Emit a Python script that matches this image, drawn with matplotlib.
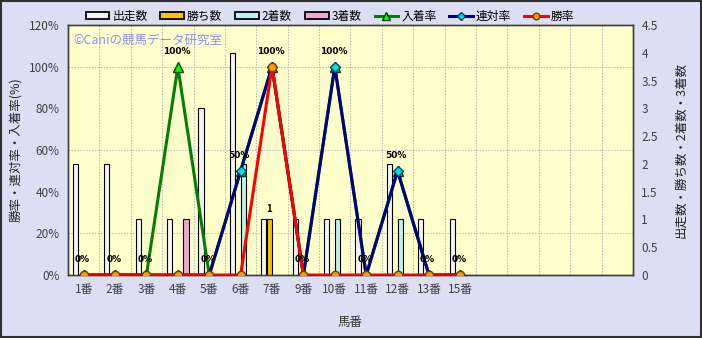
import numpy as np
import matplotlib
matplotlib.use("Agg")
import matplotlib.pyplot as plt
from matplotlib.patches import Rectangle
from matplotlib.legend_handler import HandlerPatch

plt.rcParams['font.family'] = ['Noto Sans CJK JP', 'DejaVu Sans']

# data
horses = ["1番", "2番", "3番", "4番", "5番", "6番", "7番", "9番", "10番", "11番", "12番", "13番", "15番"]
starts = [2, 2, 1, 1, 3, 4, 1, 1, 1, 1, 2, 1, 1]
wins = [0, 0, 0, 0, 0, 0, 1, 0, 0, 0, 0, 0, 0]
seconds = [0, 0, 0, 0, 0, 2, 0, 0, 1, 0, 1, 0, 0]
thirds = [0, 0, 0, 1, 0, 0, 0, 0, 0, 0, 0, 0, 0]
place_rate = [0, 0, 0, 100, 0, 50, 100, 0, 100, 0, 50, 0, 0]
top2_rate = [0, 0, 0, 0, 0, 50, 100, 0, 100, 0, 50, 0, 0]
win_rate = [0, 0, 0, 0, 0, 0, 100, 0, 0, 0, 0, 0, 0]
n_slots = 18


def thin_patch(legend, orig_handle, xdescent, ydescent, width, height, fontsize):
    h = height * 0.75
    return Rectangle((-xdescent, -ydescent + (height - h) / 2), width, h)


def thick_edge(legend_patch, orig_handle):
    legend_patch.update_from(orig_handle)
    legend_patch.set_linewidth(1.3)


fig = plt.figure(figsize=(7.02, 3.38), dpi=100)
fig.patch.set_facecolor("#dcdff4")
fig.patches.append(Rectangle((0.001, 0.002), 0.997, 0.995, transform=fig.transFigure,
                             fill=False, edgecolor="#303030", linewidth=1.5))

ax2 = fig.add_axes([68 / 702, 63 / 338, 565 / 702, 250 / 338])
ax = ax2.twinx()
ax.set_zorder(ax2.get_zorder() + 1)
ax.patch.set_visible(False)
ax2.set_facecolor("#ffffcc")

x = np.arange(len(horses))
w = 0.175
bar_specs = [
    (starts, "#f4f4f4", "出走数", -1.5),
    (wins, "#ffc000", "勝ち数", -0.5),
    (seconds, "#bff0f0", "2着数", 0.5),
    (thirds, "#f0a8cc", "3着数", 1.5),
]
handles = []
for vals, col, lab, off in bar_specs:
    b = ax2.bar(x + off * w, vals, width=w * 0.95, color=col, edgecolor="black",
                linewidth=0.8, label=lab, zorder=3)
    p = b.patches[0]
    p.set_label(lab)
    handles.append(p)

for i, v in enumerate(wins):
    if v > 0:
        ax2.annotate(str(v), (x[i] - 0.5 * w, v), xytext=(0, 4), textcoords="offset points",
                     ha="center", va="bottom", fontsize=7, fontweight="bold")

l1, = ax.plot(x, place_rate, color="#008000", linewidth=2.2, marker="^", markersize=6.5,
              markerfacecolor="#00ff00", markeredgecolor="#004000", label="入着率", zorder=4)
l2, = ax.plot(x, top2_rate, color="#000080", linewidth=2.2, marker="D", markersize=4.8,
              markerfacecolor="#00e0e0", markeredgecolor="#004060", label="連対率", zorder=5)
l3, = ax.plot(x, win_rate, color="#ff0000", linewidth=2.2, marker="o", markersize=6,
              markerfacecolor="#ff9900", markeredgecolor="#704000", label="勝率", zorder=6)
handles += [l1, l2, l3]

for i, v in enumerate(place_rate):
    ax.annotate(f"{v}%", (x[i], v), xytext=(-1, 8), textcoords="offset points",
                ha="center", va="bottom", fontsize=6.5, fontweight="bold",
                family=["DejaVu Sans"], zorder=7)

ax2.set_xlim(-0.5, n_slots - 0.5)
ax2.set_ylim(0, 4.5)
ax.set_ylim(0, 120)

# grid lives on the back axes so bars sit over it
ax2.set_yticks(np.arange(0, 4.51, 0.5))
ax2.set_yticklabels([f"{t:g}" for t in np.arange(0, 4.51, 0.5)])
ax2.set_yticks(np.arange(0.75, 4.5, 0.75), minor=True)
ax2.set_xticks(np.arange(0.5, n_slots - 0.5, 1), minor=True)
ax2.grid(which="minor", color="#b4b4b4", linestyle=(0, (1.5, 1.5)), linewidth=0.7, zorder=0)
ax2.grid(which="major", visible=False)
ax2.yaxis.tick_right()
ax2.yaxis.set_label_position("right")
ax.yaxis.tick_left()
ax.yaxis.set_label_position("left")

ax2.set_xticks(x)
ax2.set_xticklabels(horses)
ax.set_yticks(np.arange(0, 121, 20))
ax.set_yticklabels([f"{t}%" for t in range(0, 121, 20)])

for a in (ax, ax2):
    a.tick_params(which="both", length=0, labelsize=8.5, labelcolor="#404040", pad=6)
    for s in a.spines.values():
        s.set_color("#404040")
        s.set_linewidth(1.0)

ax.set_ylabel("勝率・連対率・入着率(%)", fontsize=9, color="#222222", labelpad=5)
ax2.set_ylabel("出走数・勝ち数・2着数・3着数", fontsize=9, color="#222222", labelpad=12)
ax2.set_xlabel("馬番", fontsize=9, color="#333333", labelpad=14)

ax2.text(0.01, 0.965, "©Caniの競馬データ研究室", transform=ax2.transAxes, fontsize=9,
         color="#8c8cff", ha="left", va="top", zorder=8)

fig.legend(handles=handles, labels=[h.get_label() for h in handles], loc="center",
           bbox_to_anchor=(0.47, 0.952), ncol=7, frameon=False, fontsize=8.5,
           handlelength=2.0, handletextpad=0.25, columnspacing=1.1, markerscale=0.8,
           handler_map={Rectangle: HandlerPatch(patch_func=thin_patch, update_func=thick_edge)})

fig.savefig("out.png", dpi=100, facecolor=fig.get_facecolor())
